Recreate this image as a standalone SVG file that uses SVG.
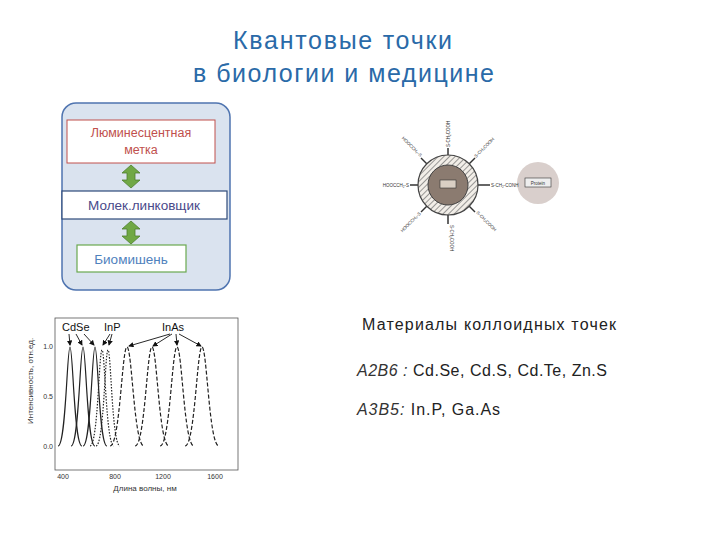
<svg xmlns="http://www.w3.org/2000/svg" width="720" height="540" viewBox="0 0 720 540">
<defs>
<style>
.t{font-family:"Liberation Sans",Arial,sans-serif}
.pk{fill:none;stroke:#222;stroke-width:1.2}
.ray{stroke:#333;stroke-width:1.5}
.lbl{font-family:"Liberation Sans",Arial,sans-serif;font-size:4.5px;fill:#333}
</style>
<pattern id="h" width="4" height="4" patternUnits="userSpaceOnUse" patternTransform="rotate(45)"><rect width="4" height="4" fill="#f2eee8"/><line x1="0" y1="0" x2="0" y2="4" stroke="#666" stroke-width="1.3"/></pattern>
<marker id="ah" markerWidth="6" markerHeight="6" refX="5" refY="3" orient="auto"><path d="M0,0 L6,3 L0,6z" fill="#111"/></marker>
</defs>
<rect width="720" height="540" fill="#fff"/>
<g id="title" class="t" font-size="25" fill="#2a6aa8">
<text x="233" y="49" textLength="219" lengthAdjust="spacing">Квантовые точки</text>
<text x="193" y="82" textLength="301" lengthAdjust="spacing">в биологии и медицине</text>
</g>
<g id="scheme">
<rect x="62" y="103" width="168" height="187" rx="14" fill="#dae3ef" stroke="#4f74b0" stroke-width="1.5"/>
<g id="n1"><rect x="67" y="120" width="148" height="43" fill="#fff" stroke="#c0504d" stroke-width="1"/>
<text class="t" x="141" y="137" font-size="12.5" text-anchor="middle" fill="#c0504d">Люминесцентная</text>
<text class="t" x="141" y="154" font-size="12.5" text-anchor="middle" fill="#c0504d">метка</text></g>
<g id="n2"><rect x="62" y="191" width="165" height="28" fill="#fff" stroke="#2e4a7a" stroke-width="1.2"/>
<text class="t" x="144" y="210" font-size="13.5" text-anchor="middle" fill="#4a4a8a">Молек.линковщик</text></g>
<g id="n3"><rect x="77" y="245" width="109" height="27" fill="#fff" stroke="#6aa84f" stroke-width="1.2"/>
<text class="t" x="131" y="264" font-size="13.5" text-anchor="middle" fill="#4f81bd">Биомишень</text></g>
<g id="connectors" fill="#70a845" stroke="#4e7f2e" stroke-width="0.8">
<path d="M131,165 L140,173 L135,173 L135,180 L140,180 L131,188 L122,180 L127,180 L127,173 L122,173 Z"/>
<path d="M131,221 L140,229 L135,229 L135,236 L140,236 L131,244 L122,236 L127,236 L127,229 L122,229 Z"/>
</g>
</g>
<g id="particle">
<g class="ray">
<line x1="448" y1="185" x2="448" y2="148"/><line x1="448" y1="185" x2="448" y2="224"/>
<line x1="448" y1="185" x2="410" y2="185"/><line x1="448" y1="185" x2="490" y2="185"/>
<line x1="448" y1="185" x2="421" y2="158"/><line x1="448" y1="185" x2="475" y2="158"/>
<line x1="448" y1="185" x2="421" y2="212"/><line x1="448" y1="185" x2="475" y2="212"/>
</g>
<circle cx="448" cy="185" r="30" fill="url(#h)" stroke="#444" stroke-width="1.2"/>
<circle cx="448" cy="185" r="20" fill="#8b7b70" stroke="#444"/>
<rect x="440" y="180" width="16" height="8" fill="#d9cfc4" stroke="#333" stroke-width="0.6"/>
<circle cx="538" cy="183" r="21" fill="#d9cfcc"/>
<rect x="525" y="178" width="26" height="9" fill="#eee" stroke="#333" stroke-width="0.6"/>
<text class="lbl" x="538" y="184.5" text-anchor="middle">Protein</text>
<text class="lbl" x="409" y="187" text-anchor="end">HOOCCH₂-S</text>
<text class="lbl" x="491" y="187">S-CH₂-CONH</text>
<text class="lbl" transform="translate(450,147) rotate(-90)">S-CH₂COOH</text>
<text class="lbl" transform="translate(450,225) rotate(90)">S-CH₂COOH</text>
<text class="lbl" text-anchor="end" transform="translate(420,157) rotate(45)">HOOCCH₂-S</text>
<text class="lbl" transform="translate(476,158) rotate(-45)">S-CH₂COOH</text>
<text class="lbl" text-anchor="end" transform="translate(421,214) rotate(-45)">HOOCCH₂-S</text>
<text class="lbl" transform="translate(476,213) rotate(45)">S-CH₂COOH</text>
</g>
<g id="chart">
<rect x="55" y="318" width="183" height="152" fill="#fff" stroke="#555" stroke-width="0.8"/>
<g class="t" font-size="7" fill="#333">
<text x="53" y="349" text-anchor="end">1.0</text><text x="53" y="399" text-anchor="end">0.5</text><text x="53" y="449" text-anchor="end">0.0</text>
<text x="63" y="479" text-anchor="middle">400</text><text x="115" y="479" text-anchor="middle">800</text><text x="163" y="479" text-anchor="middle">1200</text><text x="215" y="479" text-anchor="middle">1600</text>
<text x="145" y="491" text-anchor="middle" font-size="8">Длина волны,  нм</text>
<text transform="translate(33,424) rotate(-90)" font-size="8">Интенсивность, отн.ед.</text>
</g>
<g class="t" font-size="11" fill="#111"><text x="62" y="331">CdSe</text><text x="104" y="331">InP</text><text x="162" y="331">InAs</text></g>
<g stroke="#111" stroke-width="0.9" marker-end="url(#ah)">
<line x1="69" y1="334" x2="70" y2="345"/><line x1="76" y1="334" x2="82" y2="345"/><line x1="84" y1="334" x2="94" y2="345"/>
<line x1="110" y1="334" x2="103" y2="345"/><line x1="112" y1="334" x2="109" y2="345"/>
<line x1="170" y1="334" x2="129" y2="346"/><line x1="172" y1="334" x2="153" y2="346"/><line x1="176" y1="334" x2="177" y2="345"/><line x1="179" y1="334" x2="201" y2="346"/>
</g>
<g class="pk">
<path d="M58,446 C66,446 67,347 70,347 C73,347 74,446 82,446"/>
<path d="M71,446 C79,446 80,347 83,347 C86,347 87,446 95,446"/>
<path d="M83,446 C91,446 92,347 95,347 C98,347 99,446 107,446"/>
</g>
<g class="pk" stroke-dasharray="1.5,1.5">
<path d="M90,446 C98,446 99,350 102,350 C105,350 106,446 114,446"/>
<path d="M96,446 C104,446 105,350 108,350 C111,350 112,446 120,446"/>
</g>
<g class="pk" stroke-dasharray="4,2">
<path d="M110,446 C120,446 122,347 127,347 C132,347 134,446 144,446"/>
<path d="M135,446 C145,446 147,347 152,347 C157,347 159,446 169,446"/>
<path d="M160,446 C170,446 172,347 177,347 C182,347 184,446 194,446"/>
<path d="M185,446 C195,446 197,347 202,347 C207,347 209,446 219,446"/>
</g>
</g>
<g id="text" class="t" font-size="16" fill="#222">
<text x="362" y="330" textLength="254" lengthAdjust="spacing">Материалы коллоидных точек</text>
<text x="357" y="376" textLength="250" lengthAdjust="spacing"><tspan font-style="italic" fill="#333">A2B6 : </tspan> Cd.Se, Cd.S, Cd.Te, Zn.S</text>
<text x="357" y="415" textLength="143" lengthAdjust="spacing"><tspan font-style="italic" fill="#333">A3B5:  </tspan> In.P, Ga.As</text>
</g>
</svg>
